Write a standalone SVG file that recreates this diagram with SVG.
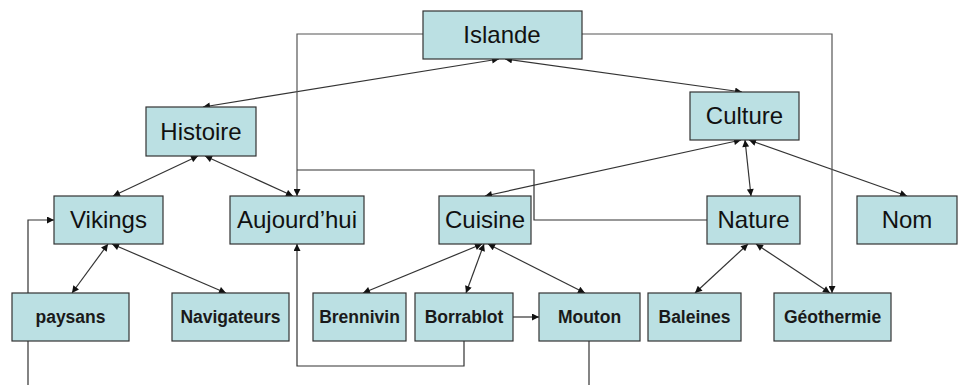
<svg xmlns="http://www.w3.org/2000/svg" width="958" height="385" viewBox="0 0 958 385">
<style>
.box{fill:#BBE0E3;stroke:#333;stroke-width:1.2}
.t1{font-family:"Liberation Sans",Arial,sans-serif;font-size:24px;fill:#111;text-anchor:middle}
.t2{font-family:"Liberation Sans",Arial,sans-serif;font-size:17.5px;font-weight:bold;fill:#1a1a1a;text-anchor:middle}
.c{fill:none;stroke:#333;stroke-width:1.2}
.g{stroke:#555}
.d{marker-start:url(#ah);marker-end:url(#ah)}
.s{marker-end:url(#ah)}
</style>
<defs>
<marker id="ah" viewBox="0 0 10 10" refX="10" refY="5" markerWidth="9" markerHeight="7" markerUnits="userSpaceOnUse" orient="auto-start-reverse">
<path d="M0,0 L10,5 L0,10 z" fill="#111"/>
</marker>
</defs>
<rect width="958" height="385" fill="#fff"/>
<g id="connectors">
<line class="c d" x1="499" y1="59" x2="203" y2="107"/>
<line class="c d" x1="505" y1="59" x2="742" y2="92"/>
<line class="c d" x1="198" y1="156" x2="113" y2="196"/>
<line class="c d" x1="205" y1="156" x2="293" y2="196"/>
<line class="c d" x1="741" y1="140" x2="485" y2="196"/>
<line class="c d" x1="745" y1="140" x2="751" y2="196"/>
<line class="c d" x1="749" y1="140" x2="907" y2="196"/>
<line class="c d" x1="108" y1="244" x2="72" y2="293"/>
<line class="c d" x1="112" y1="244" x2="226" y2="293"/>
<line class="c d" x1="482" y1="244" x2="363" y2="293"/>
<line class="c d" x1="484" y1="244" x2="466" y2="293"/>
<line class="c d" x1="488" y1="244" x2="585" y2="293"/>
<line class="c d" x1="748" y1="244" x2="695" y2="293"/>
<line class="c d" x1="756" y1="244" x2="830" y2="293"/>
<line class="c s" x1="513" y1="317" x2="539" y2="317"/>
<polyline class="c s" points="464,341 464,366 297,366 297,244"/>
<polyline class="c g s" points="423,34 297,34 297,196"/>
<polyline class="c g s" points="582,34 832,34 832,293"/>
<polyline class="c" points="707,220 534,220 534,170 297,170"/>
<polyline class="c s" points="28,385 28,220 54,220"/>
<line class="c" x1="589" y1="341" x2="589" y2="385"/>
</g>
<g id="islande"><rect class="box" x="423" y="11" width="159" height="48"/><text class="t1" x="502" y="43">Islande</text></g>
<g id="histoire"><rect class="box" x="146" y="107" width="110" height="49"/><text class="t1" x="201" y="140">Histoire</text></g>
<g id="culture"><rect class="box" x="690" y="92" width="109" height="48"/><text class="t1" x="744.5" y="124">Culture</text></g>
<g id="vikings"><rect class="box" x="54" y="196" width="109" height="48"/><text class="t1" x="108.5" y="228">Vikings</text></g>
<g id="aujourdhui"><rect class="box" x="230" y="196" width="134" height="48"/><text class="t1" x="297" y="228">Aujourd’hui</text></g>
<g id="cuisine"><rect class="box" x="439" y="196" width="92" height="48"/><text class="t1" x="485" y="228">Cuisine</text></g>
<g id="nature"><rect class="box" x="707" y="196" width="93" height="48"/><text class="t1" x="753.5" y="228">Nature</text></g>
<g id="nom"><rect class="box" x="857" y="196" width="100" height="48"/><text class="t1" x="907" y="228">Nom</text></g>
<g id="paysans"><rect class="box" x="12" y="293" width="117" height="48"/><text class="t2" x="70.5" y="323">paysans</text></g>
<g id="navigateurs"><rect class="box" x="172" y="293" width="117" height="48"/><text class="t2" x="230.5" y="323">Navigateurs</text></g>
<g id="brennivin"><rect class="box" x="313" y="293" width="93" height="48"/><text class="t2" x="359.5" y="323">Brennivin</text></g>
<g id="borrablot"><rect class="box" x="415" y="293" width="98" height="48"/><text class="t2" x="464" y="323">Borrablot</text></g>
<g id="mouton"><rect class="box" x="539" y="293" width="101" height="48"/><text class="t2" x="589.5" y="323">Mouton</text></g>
<g id="baleines"><rect class="box" x="648" y="293" width="93" height="48"/><text class="t2" x="694.5" y="323">Baleines</text></g>
<g id="geothermie"><rect class="box" x="774" y="293" width="117" height="48"/><text class="t2" x="832.5" y="323">Géothermie</text></g>
</svg>
